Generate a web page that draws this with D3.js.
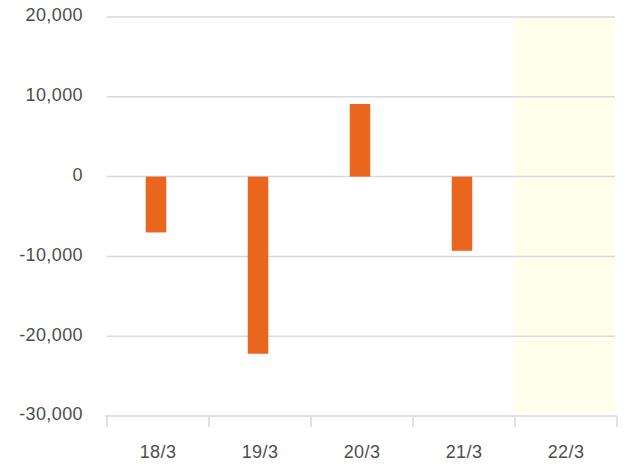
<!DOCTYPE html>
<html>
<head>
<meta charset="utf-8">
<script src="https://cdn.jsdelivr.net/npm/d3@7/dist/d3.min.js"></script>
<style>
  html, body { margin: 0; padding: 0; background: #fff; }
  svg { display: block; }
  text { font-family: "Liberation Sans", Arial, sans-serif; fill: #4d4d4d; letter-spacing: 0.4px; }
</style>
</head>
<body>
<svg id="chart" width="635" height="475"></svg>
<script>
const categories = ["18/3", "19/3", "20/3", "21/3", "22/3"];
const values = [-7000, -22200, 9100, -9300, null];
const yTicks = [20000, 10000, 0, -10000, -20000, -30000];
const highlighted = ["22/3"];

const svg = d3.select("#chart");
const x = d3.scaleBand().domain(categories).range([107, 617]).padding(0);
const y = d3.scaleLinear().domain([-30000, 20000]).range([416, 17]);
const fmt = v => d3.format(",")(v).replace("\u2212", "-");

// highlight band
svg.selectAll("rect.hl").data(highlighted).enter().append("rect")
  .attr("class", "hl")
  .attr("x", d => x(d) - 1)
  .attr("width", x.bandwidth() - 1)
  .attr("y", y(20000))
  .attr("height", y(-30000) - y(20000) - 3)
  .attr("fill", "#FFFFEC");

// gridlines
svg.selectAll("line.grid").data(yTicks.filter(t => t !== -30000)).enter().append("line")
  .attr("class", "grid")
  .attr("x1", 107).attr("x2", 615)
  .attr("y1", d => y(d)).attr("y2", d => y(d))
  .attr("stroke", "#d9d9d9").attr("stroke-width", 1.5);

// y labels
svg.selectAll("text.ylab").data(yTicks).enter().append("text")
  .attr("class", "ylab")
  .attr("x", 83)
  .attr("y", d => y(d) - 2)
  .attr("dy", "0.36em")
  .attr("text-anchor", "end")
  .style("font-size", "18px")
  .text(d => fmt(d));

// x axis
const xAxis = d3.axisBottom(x).tickSize(0).tickFormat("");
const gx = svg.append("g").attr("transform", `translate(0,${y(-30000)})`).call(xAxis);
gx.select(".domain").remove();
gx.append("line").attr("x1", 105).attr("x2", 617).attr("y1", 0).attr("y2", 0)
  .attr("stroke", "#d9d9d9").attr("stroke-width", 1.5);
const bounds = categories.map(c => x(c)).concat([x(categories[categories.length - 1]) + x.bandwidth()]);
gx.selectAll("line.tk").data(bounds).enter().append("line")
  .attr("class", "tk")
  .attr("x1", d => d).attr("x2", d => d)
  .attr("y1", 0).attr("y2", 11)
  .attr("stroke", "#d9d9d9").attr("stroke-width", 1.5);
gx.selectAll("text.xlab").data(categories).enter().append("text")
  .attr("class", "xlab")
  .attr("x", d => x(d) + x.bandwidth() / 2)
  .attr("y", 42)
  .attr("text-anchor", "middle")
  .style("font-size", "18px")
  .text(d => d);

// bars
const data = categories.map((c, i) => ({ c, v: values[i] })).filter(d => d.v !== null);
const bw = 20.5;
svg.selectAll("rect.bar").data(data).enter().append("rect")
  .attr("class", "bar")
  .attr("x", d => x(d.c) + x.bandwidth() / 2 - 2 - bw / 2)
  .attr("width", bw)
  .attr("y", d => Math.min(y(d.v), y(0)))
  .attr("height", d => Math.abs(y(d.v) - y(0)))
  .attr("fill", "#EA661F");
</script>
</body>
</html>
